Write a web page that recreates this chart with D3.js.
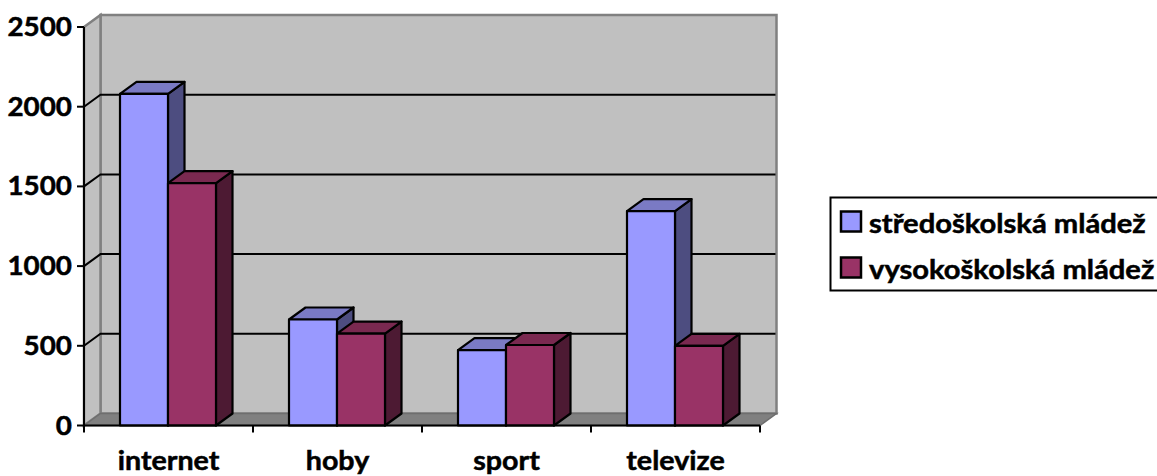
<!DOCTYPE html>
<html><head><meta charset="utf-8">
<script src="https://cdn.jsdelivr.net/npm/d3@7"></script>
<style>html,body{margin:0;padding:0;background:#fff}svg{display:block}text{font-family:Lato,"Open Sans",sans-serif;font-weight:700;fill:#000;stroke:#000;stroke-width:.5px}</style>
</head><body><svg id="c" width="1157" height="476"></svg>
<script>
const categories = ["internet","hoby","sport","televize"];
const seriesNames = ["středoškolská mládež","vysokoškolská mládež"];
const stredoskolska = [2080,665,473,1345];
const vysokoskolska = [1520,577,505,500];
const yTicks = [0,500,1000,1500,2000,2500];
const colors = ["#9999ff","#993366"];
const topColors = ["#7a7ac4","#7a2950"];
const sideColors = ["#4d4d80","#4d1a33"];

const svg = d3.select("#c");
const dx = 16.5, dy = -12;
const x = d3.scaleBand().domain(categories).range([84,760]).padding(0);
const y = d3.scaleLinear().domain([0,2500]).range([425.5,27]);
const x0 = x.range()[0], x1 = x.range()[1], y0 = y(0), yT = y(2500);
const bw = 48, inner = 36;
const line = pts => "M" + pts.map(p=>p.join(",")).join("L") + "Z";

svg.append("path").attr("d",line([[x0+dx,yT+dy],[x1+dx,yT+dy],[x1+dx,y0+dy],[x0+dx,y0+dy]])).attr("fill","#c0c0c0").attr("stroke","#808080").attr("stroke-width",2.5);
svg.append("path").attr("d",line([[x0,yT],[x0+dx,yT+dy],[x0+dx,y0+dy],[x0,y0]])).attr("fill","#c0c0c0").attr("stroke","#808080").attr("stroke-width",2.5);
svg.append("path").attr("d",line([[x0,y0],[x0+dx,y0+dy],[x1+dx,y0+dy],[x1,y0]])).attr("fill","#808080").attr("stroke","#6e6e6e").attr("stroke-width",1.5);

svg.selectAll(".g").data(yTicks.filter(t=>t>0&&t<2500)).join("path").attr("class","g")
  .attr("d",t=>`M${x0},${y(t)}L${x0+dx},${y(t)+dy}L${x1+dx-1},${y(t)+dy}`)
  .attr("fill","none").attr("stroke","#000").attr("stroke-width",2);

const draw = (val,cat,s)=>{
  const l = x(cat)+inner+s*bw, r = l+bw, t = y(val), b = y0;
  const g = svg.append("g").attr("stroke","#000").attr("stroke-width",2.2).attr("stroke-linejoin","round");
  g.append("path").attr("d",line([[r,t],[r+dx,t+dy],[r+dx,b+dy],[r,b]])).attr("fill",sideColors[s]);
  g.append("path").attr("d",line([[l,t],[l+dx,t+dy],[r+dx,t+dy],[r,t]])).attr("fill",topColors[s]);
  g.append("path").attr("d",line([[l,t],[r,t],[r,b],[l,b]])).attr("fill",colors[s]);
};
categories.forEach((c,i)=>{draw(stredoskolska[i],c,0);draw(vysokoskolska[i],c,1);});

const ax = svg.append("g").attr("stroke","#000").attr("stroke-width",2).attr("fill","none");
ax.append("path").attr("d",`M${x0},${yT}V${y0}H${x1}`);
ax.selectAll(".yt").data(yTicks).join("path").attr("class","yt").attr("d",t=>`M${x0-7},${y(t)}H${x0}`);
ax.selectAll(".xt").data(d3.range(categories.length+1)).join("path").attr("class","xt")
  .attr("d",i=>`M${x0+i*x.bandwidth()},${y0}v7`);

// text is horizontally stretched relative to its height
svg.selectAll(".yl").data(yTicks).join("text").attr("class","yl")
  .attr("transform",t=>`translate(72,${y(t)+9}) scale(1.07,1)`).attr("text-anchor","end").attr("font-size",26).text(d=>d);
svg.selectAll(".xl").data(categories).join("text").attr("class","xl")
  .attr("transform",c=>`translate(${x(c)+x.bandwidth()/2},470) scale(1.1,1)`).attr("text-anchor","middle").attr("font-size",26).text(d=>d);

svg.append("rect").attr("x",830.5).attr("y",197.5).attr("width",340).attr("height",93).attr("fill","#fff").attr("stroke","#000").attr("stroke-width",2);
seriesNames.forEach((n,i)=>{
  const ly = 222+i*46;
  svg.append("rect").attr("x",841).attr("y",ly-10.5).attr("width",20).attr("height",20).attr("fill",colors[i]).attr("stroke","#000").attr("stroke-width",2.5);
  svg.append("text").attr("transform",`translate(869,${ly+11}) scale(1.1,1)`).attr("font-size",26.5).text(n);
});
</script></body></html>
